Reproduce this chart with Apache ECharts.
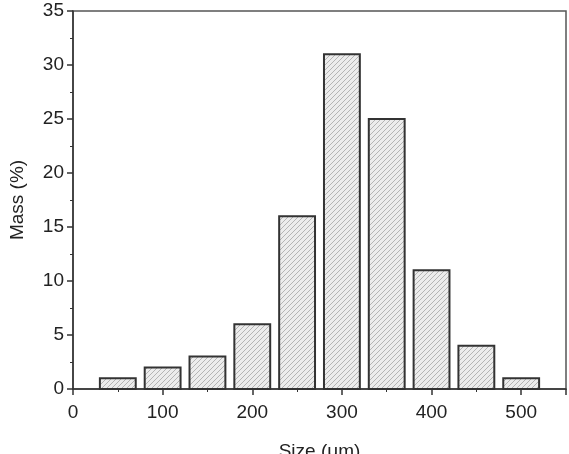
<!DOCTYPE html>
<html>
<head>
<meta charset="utf-8">
<script src="https://cdn.jsdelivr.net/npm/echarts@6/dist/echarts.min.js"></script>
<style>
  html, body { margin: 0; padding: 0; background: #fff; }
  #chart { width: 569px; height: 454px; }
</style>
</head>
<body>
<div id="chart"></div>
<script>
// bin centres (um) and mass fraction (%)
const sizes = [50, 100, 150, 200, 250, 300, 350, 400, 450, 500];
const mass = [1, 2, 3, 6, 16, 31, 25, 11, 4, 1];
const binWidth = 40;

// hatch pattern for bar fill
function hatch() {
  const c = document.createElement("canvas");
  c.width = 5;
  c.height = 5;
  const ctx = c.getContext("2d");
  ctx.fillStyle = "#ececec";
  ctx.fillRect(0, 0, 5, 5);
  ctx.strokeStyle = "#b4b4b4";
  ctx.lineWidth = 1;
  ctx.beginPath();
  ctx.moveTo(-1, 6);
  ctx.lineTo(6, -1);
  ctx.moveTo(-1, 1);
  ctx.lineTo(1, -1);
  ctx.moveTo(4, 6);
  ctx.lineTo(6, 4);
  ctx.stroke();
  return c;
}

const chart = echarts.init(document.getElementById("chart"));
const font = "Liberation Sans";

chart.setOption({
  animation: false,
  grid: {
    left: 73,
    right: 3,
    top: 11,
    bottom: 65,
    show: true,
    borderColor: "#555",
    borderWidth: 1.5,
    containLabel: false,
    outerBoundsMode: "none",
  },
  xAxis: {
    type: "value",
    min: 0,
    max: 550,
    interval: 100,
    name: "Size (\u03bcm)",
    nameLocation: "middle",
    nameGap: 53,
    nameTextStyle: { fontFamily: font, fontSize: 19, color: "#222" },
    axisLine: { lineStyle: { color: "#333", width: 1.5 } },
    axisTick: { length: 6, lineStyle: { color: "#333", width: 1.5 } },
    minorTick: { show: true, splitNumber: 2, length: 3, lineStyle: { color: "#333" } },
    axisLabel: {
      fontFamily: font,
      fontSize: 19,
      color: "#222",
      margin: 14,
      showMaxLabel: false,
    },
    splitLine: { show: false },
  },
  yAxis: {
    type: "value",
    min: 0,
    max: 35,
    interval: 5,
    name: "Mass (%)",
    nameLocation: "middle",
    nameGap: 46,
    nameTextStyle: { fontFamily: font, fontSize: 19, color: "#222" },
    axisLine: { show: true, lineStyle: { color: "#333", width: 1.5 } },
    axisTick: { show: true, length: 6, lineStyle: { color: "#333", width: 1.5 } },
    minorTick: { show: true, splitNumber: 2, length: 3, lineStyle: { color: "#333" } },
    axisLabel: { fontFamily: font, fontSize: 19, color: "#222", margin: 9 },
    splitLine: { show: false },
  },
  series: [
    {
      type: "custom",
      data: sizes.map((s, i) => [s, mass[i]]),
      renderItem(params, api) {
        const x = api.value(0);
        const y = api.value(1);
        const p0 = api.coord([x - binWidth / 2, y]);
        const p1 = api.coord([x + binWidth / 2, 0]);
        return {
          type: "rect",
          shape: { x: p0[0], y: p0[1], width: p1[0] - p0[0], height: p1[1] - p0[1] },
          style: {
            fill: { image: hatch(), repeat: "repeat" },
            stroke: "#333",
            lineWidth: 2,
          },
        };
      },
    },
  ],
});
</script>
</body>
</html>
